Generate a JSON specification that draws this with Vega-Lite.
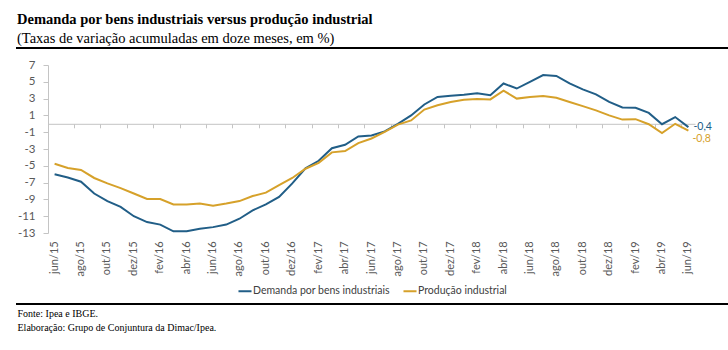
{
  "$schema": "https://vega.github.io/schema/vega-lite/v6.json",
  "width": 711,
  "height": 256,
  "autosize": {"type": "none"},
  "padding": {"left": 17, "top": 48, "right": 0, "bottom": 46},
  "background": "white",
  "title": {
    "text": "Demanda por bens industriais versus produção industrial",
    "subtitle": "(Taxas de variação acumuladas em doze meses, em %)",
    "anchor": "start",
    "frame": "group",
    "font": "Liberation Serif",
    "fontSize": 14.5,
    "fontWeight": "bold",
    "color": "#000000",
    "subtitleFont": "Liberation Serif",
    "subtitleFontSize": 14.5,
    "subtitleColor": "#000000",
    "subtitlePadding": 4,
    "offset": 2
  },
  "config": {
    "view": {"stroke": "#000000", "strokeWidth": 2, "strokeDash": [713, 254], "strokeDashOffset": 1},
    "locale": {
      "number": {"decimal": ",", "thousands": ".", "grouping": [3], "currency": ["R$", ""], "minus": "-"}
    }
  },
  "data": {
    "values": [
      {"mes": "jun/15", "serie": "Demanda por bens industriais", "valor": -6.0},
      {"mes": "jul/15", "serie": "Demanda por bens industriais", "valor": -6.4},
      {"mes": "ago/15", "serie": "Demanda por bens industriais", "valor": -6.9},
      {"mes": "set/15", "serie": "Demanda por bens industriais", "valor": -8.3},
      {"mes": "out/15", "serie": "Demanda por bens industriais", "valor": -9.2},
      {"mes": "nov/15", "serie": "Demanda por bens industriais", "valor": -9.9},
      {"mes": "dez/15", "serie": "Demanda por bens industriais", "valor": -11.0},
      {"mes": "jan/16", "serie": "Demanda por bens industriais", "valor": -11.7},
      {"mes": "fev/16", "serie": "Demanda por bens industriais", "valor": -12.0},
      {"mes": "mar/16", "serie": "Demanda por bens industriais", "valor": -12.8},
      {"mes": "abr/16", "serie": "Demanda por bens industriais", "valor": -12.8},
      {"mes": "mai/16", "serie": "Demanda por bens industriais", "valor": -12.5},
      {"mes": "jun/16", "serie": "Demanda por bens industriais", "valor": -12.3},
      {"mes": "jul/16", "serie": "Demanda por bens industriais", "valor": -12.0},
      {"mes": "ago/16", "serie": "Demanda por bens industriais", "valor": -11.3},
      {"mes": "set/16", "serie": "Demanda por bens industriais", "valor": -10.3},
      {"mes": "out/16", "serie": "Demanda por bens industriais", "valor": -9.6},
      {"mes": "nov/16", "serie": "Demanda por bens industriais", "valor": -8.7},
      {"mes": "dez/16", "serie": "Demanda por bens industriais", "valor": -7.1},
      {"mes": "jan/17", "serie": "Demanda por bens industriais", "valor": -5.3},
      {"mes": "fev/17", "serie": "Demanda por bens industriais", "valor": -4.4},
      {"mes": "mar/17", "serie": "Demanda por bens industriais", "valor": -2.9},
      {"mes": "abr/17", "serie": "Demanda por bens industriais", "valor": -2.5},
      {"mes": "mai/17", "serie": "Demanda por bens industriais", "valor": -1.5},
      {"mes": "jun/17", "serie": "Demanda por bens industriais", "valor": -1.4},
      {"mes": "jul/17", "serie": "Demanda por bens industriais", "valor": -0.9},
      {"mes": "ago/17", "serie": "Demanda por bens industriais", "valor": 0.0},
      {"mes": "set/17", "serie": "Demanda por bens industriais", "valor": 1.0},
      {"mes": "out/17", "serie": "Demanda por bens industriais", "valor": 2.3},
      {"mes": "nov/17", "serie": "Demanda por bens industriais", "valor": 3.2},
      {"mes": "dez/17", "serie": "Demanda por bens industriais", "valor": 3.35},
      {"mes": "jan/18", "serie": "Demanda por bens industriais", "valor": 3.45},
      {"mes": "fev/18", "serie": "Demanda por bens industriais", "valor": 3.65},
      {"mes": "mar/18", "serie": "Demanda por bens industriais", "valor": 3.4},
      {"mes": "abr/18", "serie": "Demanda por bens industriais", "valor": 4.8},
      {"mes": "mai/18", "serie": "Demanda por bens industriais", "valor": 4.2},
      {"mes": "jun/18", "serie": "Demanda por bens industriais", "valor": 5.0},
      {"mes": "jul/18", "serie": "Demanda por bens industriais", "valor": 5.8},
      {"mes": "ago/18", "serie": "Demanda por bens industriais", "valor": 5.7},
      {"mes": "set/18", "serie": "Demanda por bens industriais", "valor": 4.8},
      {"mes": "out/18", "serie": "Demanda por bens industriais", "valor": 4.1},
      {"mes": "nov/18", "serie": "Demanda por bens industriais", "valor": 3.5},
      {"mes": "dez/18", "serie": "Demanda por bens industriais", "valor": 2.6},
      {"mes": "jan/19", "serie": "Demanda por bens industriais", "valor": 1.95},
      {"mes": "fev/19", "serie": "Demanda por bens industriais", "valor": 1.9},
      {"mes": "mar/19", "serie": "Demanda por bens industriais", "valor": 1.3},
      {"mes": "abr/19", "serie": "Demanda por bens industriais", "valor": -0.05},
      {"mes": "mai/19", "serie": "Demanda por bens industriais", "valor": 0.8},
      {"mes": "jun/19", "serie": "Demanda por bens industriais", "valor": -0.4},
      {"mes": "jun/15", "serie": "Produção industrial", "valor": -4.75},
      {"mes": "jul/15", "serie": "Produção industrial", "valor": -5.25},
      {"mes": "ago/15", "serie": "Produção industrial", "valor": -5.5},
      {"mes": "set/15", "serie": "Produção industrial", "valor": -6.45},
      {"mes": "out/15", "serie": "Produção industrial", "valor": -7.1},
      {"mes": "nov/15", "serie": "Produção industrial", "valor": -7.65},
      {"mes": "dez/15", "serie": "Produção industrial", "valor": -8.3},
      {"mes": "jan/16", "serie": "Produção industrial", "valor": -8.95},
      {"mes": "fev/16", "serie": "Produção industrial", "valor": -8.95},
      {"mes": "mar/16", "serie": "Produção industrial", "valor": -9.6},
      {"mes": "abr/16", "serie": "Produção industrial", "valor": -9.6},
      {"mes": "mai/16", "serie": "Produção industrial", "valor": -9.5},
      {"mes": "jun/16", "serie": "Produção industrial", "valor": -9.75},
      {"mes": "jul/16", "serie": "Produção industrial", "valor": -9.5},
      {"mes": "ago/16", "serie": "Produção industrial", "valor": -9.2},
      {"mes": "set/16", "serie": "Produção industrial", "valor": -8.6},
      {"mes": "out/16", "serie": "Produção industrial", "valor": -8.2},
      {"mes": "nov/16", "serie": "Produção industrial", "valor": -7.3},
      {"mes": "dez/16", "serie": "Produção industrial", "valor": -6.45},
      {"mes": "jan/17", "serie": "Produção industrial", "valor": -5.35},
      {"mes": "fev/17", "serie": "Produção industrial", "valor": -4.65},
      {"mes": "mar/17", "serie": "Produção industrial", "valor": -3.4},
      {"mes": "abr/17", "serie": "Produção industrial", "valor": -3.25},
      {"mes": "mai/17", "serie": "Produção industrial", "valor": -2.3},
      {"mes": "jun/17", "serie": "Produção industrial", "valor": -1.75},
      {"mes": "jul/17", "serie": "Produção industrial", "valor": -0.95},
      {"mes": "ago/17", "serie": "Produção industrial", "valor": -0.1},
      {"mes": "set/17", "serie": "Produção industrial", "valor": 0.4},
      {"mes": "out/17", "serie": "Produção industrial", "valor": 1.7},
      {"mes": "nov/17", "serie": "Produção industrial", "valor": 2.2},
      {"mes": "dez/17", "serie": "Produção industrial", "valor": 2.6},
      {"mes": "jan/18", "serie": "Produção industrial", "valor": 2.85},
      {"mes": "fev/18", "serie": "Produção industrial", "valor": 2.95},
      {"mes": "mar/18", "serie": "Produção industrial", "valor": 2.9},
      {"mes": "abr/18", "serie": "Produção industrial", "valor": 3.95},
      {"mes": "mai/18", "serie": "Produção industrial", "valor": 3.0},
      {"mes": "jun/18", "serie": "Produção industrial", "valor": 3.2},
      {"mes": "jul/18", "serie": "Produção industrial", "valor": 3.3},
      {"mes": "ago/18", "serie": "Produção industrial", "valor": 3.1},
      {"mes": "set/18", "serie": "Produção industrial", "valor": 2.6},
      {"mes": "out/18", "serie": "Produção industrial", "valor": 2.1},
      {"mes": "nov/18", "serie": "Produção industrial", "valor": 1.6},
      {"mes": "dez/18", "serie": "Produção industrial", "valor": 1.0},
      {"mes": "jan/19", "serie": "Produção industrial", "valor": 0.5},
      {"mes": "fev/19", "serie": "Produção industrial", "valor": 0.55},
      {"mes": "mar/19", "serie": "Produção industrial", "valor": -0.05},
      {"mes": "abr/19", "serie": "Produção industrial", "valor": -1.1},
      {"mes": "mai/19", "serie": "Produção industrial", "valor": 0.0},
      {"mes": "jun/19", "serie": "Produção industrial", "valor": -0.8}
    ]
  },
  "encoding": {
    "x": {
      "field": "mes",
      "type": "ordinal",
      "sort": null,
      "scale": {"type": "band", "range": [31, 678], "paddingInner": 0, "paddingOuter": 0},
      "axis": {
        "orient": "bottom",
        "offset": -180.2,
        "values": ["jun/15", "ago/15", "out/15", "dez/15", "fev/16", "abr/16", "jun/16", "ago/16", "out/16", "dez/16", "fev/17", "abr/17", "jun/17", "ago/17", "out/17", "dez/17", "fev/18", "abr/18", "jun/18", "ago/18", "out/18", "dez/18", "fev/19", "abr/19", "jun/19"],
        "bandPosition": 0,
        "grid": false,
        "domainColor": "#C4C4C4",
        "domainWidth": 1,
        "ticks": true,
        "tickColor": "#C4C4C4",
        "tickSize": 4,
        "labelAngle": -90,
        "labelPadding": 113,
        "labelFont": "Lato",
        "labelFontSize": 11,
        "labelColor": "#595959",
        "labelOverlap": false,
        "labelBound": false,
        "title": ["Fonte: Ipea e IBGE.", "Elaboração: Grupo de Conjuntura da Dimac/Ipea."],
        "titleFont": "Liberation Serif",
        "titleFontSize": 10,
        "titleFontWeight": "normal",
        "titleColor": "#000000",
        "titleAnchor": "start",
        "titleAlign": "left",
        "titleBaseline": "alphabetic",
        "titleX": 0,
        "titleY": 193,
        "titleLineHeight": 14
      }
    },
    "y": {
      "field": "valor",
      "type": "quantitative",
      "scale": {"domain": [-13, 7], "range": [185, 17], "nice": false, "zero": false},
      "axis": {
        "orient": "left",
        "offset": -31,
        "values": [7, 5, 3, 1, -1, -3, -5, -7, -9, -11, -13],
        "title": null,
        "grid": false,
        "domainColor": "#C4C4C4",
        "tickColor": "#C4C4C4",
        "tickSize": 5,
        "labelPadding": 8,
        "labelFont": "Lato",
        "labelFontSize": 11.5,
        "labelColor": "#595959"
      }
    }
  },
  "layer": [
    {
      "mark": {"type": "line", "strokeWidth": 2},
      "encoding": {
        "color": {
          "field": "serie",
          "type": "nominal",
          "sort": null,
          "scale": {"domain": ["Demanda por bens industriais", "Produção industrial"], "range": ["#215E87", "#D6A12A"]},
          "legend": {
            "orient": "none",
            "legendX": 220,
            "legendY": 235,
            "direction": "horizontal",
            "title": null,
            "symbolType": "stroke",
            "symbolSize": 170,
            "symbolStrokeWidth": 2,
            "labelFont": "Lato",
            "labelFontSize": 10.5,
            "labelColor": "#404040",
            "labelOffset": 0,
            "columnPadding": 9
          }
        }
      }
    },
    {
      "transform": [{"filter": "datum.mes === 'jun/19' && datum.serie === 'Demanda por bens industriais'"}],
      "mark": {"type": "text", "align": "left", "baseline": "middle", "dx": 5, "dy": -0.5, "font": "Lato", "fontSize": 10.5, "color": "#215E87"},
      "encoding": {"text": {"field": "valor", "type": "quantitative", "format": ".1f"}}
    },
    {
      "transform": [{"filter": "datum.mes === 'jun/19' && datum.serie === 'Produção industrial'"}],
      "mark": {"type": "text", "align": "left", "baseline": "middle", "dx": 4, "dy": 8.5, "font": "Lato", "fontSize": 10.5, "color": "#D6A12A"},
      "encoding": {"text": {"field": "valor", "type": "quantitative", "format": ".1f"}}
    }
  ]
}
